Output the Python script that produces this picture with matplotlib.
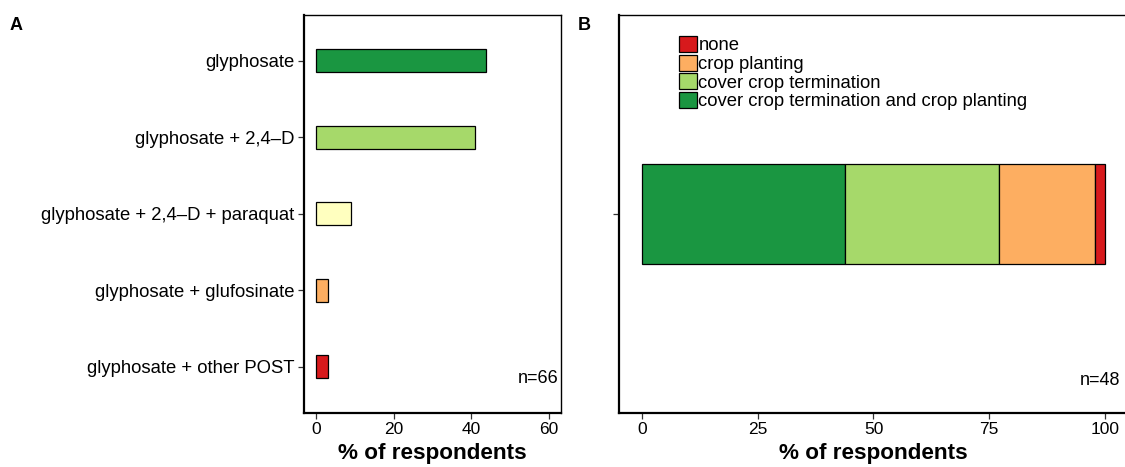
import numpy as np
import matplotlib
matplotlib.use("Agg")
import matplotlib.pyplot as plt

plt.rcParams['font.family'] = ['Liberation Sans', 'DejaVu Sans']

# panel A: herbicide programs (n=66)
programs = ["glyphosate", "glyphosate + 2,4\u2013D", "glyphosate + 2,4\u2013D + paraquat",
            "glyphosate + glufosinate", "glyphosate + other POST"]
program_pct = [43.9, 40.9, 9.1, 3.0, 3.0]
program_colors = ["#1A9641", "#A6D96A", "#FFFFBF", "#FDAE61", "#D7191C"]

# panel B: timing of application (n=48), in stacking order from 0
timing = ["cover crop termination and crop planting", "cover crop termination",
          "crop planting", "none"]
timing_pct = [43.75, 33.33, 20.83, 2.08]
timing_colors = ["#1A9641", "#A6D96A", "#FDAE61", "#D7191C"]

W, H = 1125, 467
fig = plt.figure(figsize=(W / 100, H / 100), dpi=100)

axA = fig.add_axes([304.3 / W, 1 - 412.7 / H, (560.7 - 304.3) / W, (412.7 - 15) / H])
axB = fig.add_axes([619 / W, 1 - 412.7 / H, (1128 - 619) / W, (412.7 - 15) / H])

def style(ax):
    for s in ["top", "right"]:
        ax.spines[s].set_linewidth(1.0)
    for s in ["left", "bottom"]:
        ax.spines[s].set_linewidth(1.6)
    ax.tick_params(axis="both", length=4, width=0.9, color="#333333",
                   labelcolor="black")
    ax.tick_params(axis="x", labelsize=12.5, pad=3)
    ax.tick_params(axis="y", labelsize=13.3, pad=3)
    ax.set_xlabel("% of respondents", fontsize=16.2, fontweight="bold", labelpad=4)

# --- panel A
ypos = np.arange(len(programs), 0, -1)
axA.barh(ypos, program_pct, height=0.3, color=program_colors,
         edgecolor="black", linewidth=0.9)
axA.set_yticks(ypos)
axA.set_yticklabels(programs)
axA.set_ylim(0.4, len(programs) + 0.6)
axA.set_xlim(-3, 63)
axA.set_xticks([0, 20, 40, 60])
style(axA)
axA.text(0.99, 0.085, "n=66", transform=axA.transAxes, ha="right", va="center",
         fontsize=13)

# --- panel B
left = 0.0
handles = []
for lab, val, col in zip(timing, timing_pct, timing_colors):
    h = axB.barh(1, val, left=left, height=0.3, color=col, edgecolor="black",
                 linewidth=0.9, label=lab)
    handles.append(h)
    left += val
axB.set_ylim(0.4, 1.6)
axB.set_yticks([1])
axB.set_yticklabels([""])
axB.set_xlim(-5, 105)
axB.set_xticks([0, 25, 50, 75, 100])
style(axB)
axB.text(0.984, 0.08, "n=48", transform=axB.transAxes, ha="right", va="center",
         fontsize=13)
axB.legend(handles[::-1], timing[::-1], loc="upper left",
           bbox_to_anchor=(0.118, 0.947), frameon=False, fontsize=13.3,
           borderpad=0, borderaxespad=0, labelspacing=0.02, handlelength=0.95,
           handleheight=0.95, handletextpad=0.1)

fig.text(10 / W, 1 - 25 / H, "A", fontsize=13, fontweight="bold", va="center")
fig.text(578 / W, 1 - 25 / H, "B", fontsize=13, fontweight="bold", va="center")

fig.savefig("out.png", dpi=100)
